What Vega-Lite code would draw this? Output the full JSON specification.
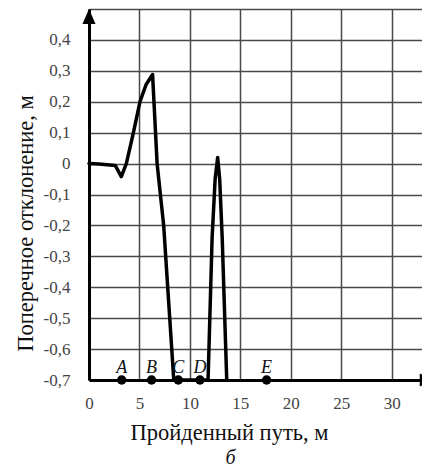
{
  "$schema": "https://vega.github.io/schema/vega-lite/v6.json",
  "width": 333,
  "height": 371,
  "autosize": {"type": "none"},
  "padding": {"left": 89, "top": 9, "right": 0, "bottom": 90},
  "background": "white",
  "config": {"view": {"stroke": null}, "font": "Liberation Serif, Times New Roman, serif"},
  "title": {"text": "б", "orient": "bottom", "anchor": "middle", "dx": -25, "offset": 4, "font": "Liberation Serif, Times New Roman, serif", "fontStyle": "italic", "fontWeight": "normal", "fontSize": 20, "color": "#111"},
  "datasets": {
    "curve": [
      {"s": 0, "d": 0},
      {"s": 1, "d": -0.001},
      {"s": 2.6, "d": -0.006},
      {"s": 3.2, "d": -0.042},
      {"s": 3.7, "d": 0.0},
      {"s": 4.4, "d": 0.1},
      {"s": 5.05, "d": 0.2},
      {"s": 5.65, "d": 0.255},
      {"s": 6.3, "d": 0.288},
      {"s": 6.75, "d": 0.0},
      {"s": 7.4, "d": -0.2},
      {"s": 7.9, "d": -0.45},
      {"s": 8.4, "d": -0.7},
      {"s": 11.8, "d": -0.7},
      {"s": 12.2, "d": -0.24},
      {"s": 12.5, "d": -0.05},
      {"s": 12.75, "d": 0.02},
      {"s": 12.95, "d": -0.05},
      {"s": 13.2, "d": -0.24},
      {"s": 13.65, "d": -0.7}
    ],
    "marks": [
      {"s": 3.24, "d": -0.7, "name": "A"},
      {"s": 6.2, "d": -0.7, "name": "B"},
      {"s": 8.85, "d": -0.7, "name": "C"},
      {"s": 11.0, "d": -0.7, "name": "D"},
      {"s": 17.6, "d": -0.7, "name": "E"}
    ],
    "arrows": [
      {"s": 0, "d": 0.5, "dir": "up"},
      {"s": 33, "d": -0.7, "dir": "right"}
    ]
  },
  "layer": [
    {
      "data": {"name": "curve"},
      "mark": {"type": "line", "color": "black", "strokeWidth": 3.5, "strokeJoin": "round", "strokeCap": "round"},
      "encoding": {
        "x": {
          "field": "s", "type": "quantitative",
          "scale": {"domain": [0, 33], "nice": false, "zero": false},
          "axis": {
            "values": [0, 5, 10, 15, 20, 25, 30],
            "tickCount": 20,
            "title": "Пройденный путь, м",
            "titleFont": "Liberation Serif, Times New Roman, serif", "titleFontSize": 22.5, "titleFontWeight": "normal", "titleColor": "#111",
            "titleX": 140, "titleY": 52, "titleBaseline": "middle", "titleAlign": "center",
            "labelFont": "Liberation Serif, Times New Roman, serif", "labelFontSize": 17, "labelColor": "#444",
            "labelPadding": 15, "ticks": false,
            "domainColor": "black", "domainWidth": 3,
            "grid": true, "gridColor": "#4a4a4a", "gridWidth": 1.5,
            "labelFlush": false
          }
        },
        "y": {
          "field": "d", "type": "quantitative",
          "scale": {"domain": [-0.7, 0.5], "nice": false, "zero": false},
          "axis": {
            "values": [-0.7, -0.6, -0.5, -0.4, -0.3, -0.2, -0.1, 0, 0.1, 0.2, 0.3, 0.4, 0.5],
            "tickCount": 30,
            "labelExpr": "datum.value > 0.45 ? '' : (datum.value == 0 ? '0' : (datum.value < 0 ? '-' : '') + '0,' + toString(round(abs(datum.value) * 10)))",
            "title": "Поперечное отклонение, м",
            "titleFont": "Liberation Serif, Times New Roman, serif", "titleFontSize": 22.5, "titleFontWeight": "normal", "titleColor": "#111",
            "titleX": -64, "titleY": 214, "titleBaseline": "middle", "titleAlign": "center", "titleAngle": -90,
            "labelFont": "Liberation Serif, Times New Roman, serif", "labelFontSize": 17, "labelColor": "#444",
            "labelPadding": 19, "ticks": false,
            "domainColor": "black", "domainWidth": 3,
            "grid": true, "gridColor": "#4a4a4a", "gridWidth": 1.5,
            "labelFlush": false, "labelOverlap": false
          }
        }
      }
    },
    {
      "data": {"name": "marks"},
      "mark": {"type": "point", "shape": "circle", "filled": true, "color": "black", "opacity": 1, "size": 90},
      "encoding": {
        "x": {"field": "s", "type": "quantitative"},
        "y": {"field": "d", "type": "quantitative"}
      }
    },
    {
      "data": {"name": "marks"},
      "mark": {"type": "text", "font": "Liberation Serif, Times New Roman, serif", "fontStyle": "italic", "fontSize": 18, "color": "#111", "baseline": "alphabetic", "align": "center", "dy": -7},
      "encoding": {
        "x": {"field": "s", "type": "quantitative"},
        "y": {"field": "d", "type": "quantitative"},
        "text": {"field": "name"}
      }
    },
    {
      "data": {"name": "arrows"},
      "mark": {"type": "point", "filled": true, "color": "black", "opacity": 1, "size": 225},
      "encoding": {
        "x": {"field": "s", "type": "quantitative"},
        "y": {"field": "d", "type": "quantitative"},
        "shape": {
          "field": "dir", "type": "nominal",
          "scale": {"domain": ["up", "right"], "range": ["M-0.87,2 L0,0 L0.87,2 Z", "M-0.3,-0.87 L1.7,0 L-0.3,0.87 Z"]},
          "legend": null
        }
      }
    }
  ]
}
